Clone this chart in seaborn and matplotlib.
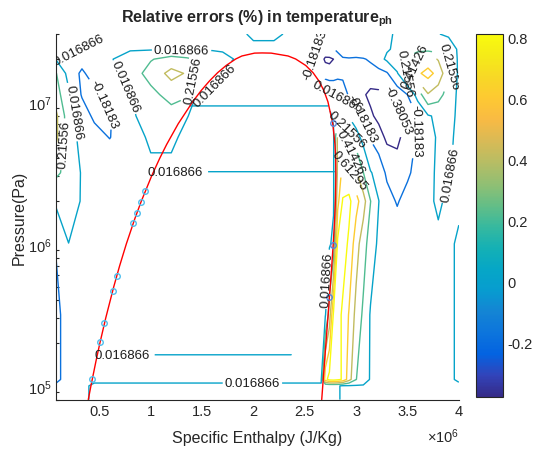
import numpy as np
import pandas as pd
import matplotlib
matplotlib.use("Agg")
import matplotlib.pyplot as plt
import seaborn as sns
from matplotlib.colors import LinearSegmentedColormap, Normalize
from matplotlib.cm import ScalarMappable

# ---------------- data ----------------
# contour levels of the relative temperature error (%)
levels = [-0.38053, -0.18183, 0.016866, 0.21556, 0.41426, 0.61295, 0.81165]
level_text = ["-0.38053", "-0.18183", "0.016866", "0.21556", "0.41426", "0.61295", "0.81165"]

# grid nodes: specific enthalpy (x1e6 J/kg) and log10 pressure (Pa)
enthalpy_nodes = [0.08, 0.2, 0.33, 0.45, 0.6,
                  0.8, 1.0, 1.2, 1.35, 1.45, 1.6, 1.7, 1.85, 2.0, 2.2, 2.4, 2.55,
                  2.66, 2.70, 2.74, 2.78, 2.82, 2.87, 2.93, 3.0, 3.07, 3.14, 3.22, 3.3,
                  3.4, 3.5, 3.6, 3.7, 3.8, 3.9, 4.0]
log_pressure_nodes = [4.903, 5.0, 5.045, 5.5, 6.0, 6.3, 6.5, 6.75, 6.9, 7.05, 7.2, 7.3, 7.37, 7.477]

# estimated error values along each pressure row
err_p4903 = [-0.05, 0, 0, 0.03, 0.03,
             0.03, 0.03, 0.03, 0.03, 0.03, 0.03, 0.03, 0.03, 0.03, 0.03, 0.03, 0.03,
             0.03, 0.03, 0.03, 0.03, 0.03, 0, 0, 0, 0, 0, 0, 0, 0, 0, 0, 0, 0, 0, 0]
err_p5000 = [-0.1, 0, 0, 0.03, 0.03,
             0.03, 0.03, 0.03, 0.03, 0.03, 0.03, 0.03, 0.03, 0.03, 0.03, 0.03, 0.03,
             0.03, 0.03, 0.03, 0.03, 0.03, 0, 0, 0, 0, 0, 0, 0, 0, 0, 0, 0, 0, 0, 0]
err_p5045 = [-0.28, 0, 0, 0, 0,
             0, 0, 0, 0, 0, 0, 0, 0, 0, 0, 0, 0,
             0, 0.75, 0.88, 0.9, 0.86, 0.79, 0.5, 0.22, 0.12, 0, 0, 0, 0, 0, 0, 0, 0, 0, 0.03]
err_p5500 = [-0.28, 0, 0, 0, 0,
             0, 0, 0, 0, 0, 0, 0, 0, 0, 0, 0, 0,
             0, 0, 0.3, 0.85, 0.88, 0.78, 0.6, 0.35, 0.18, 0, 0, 0, 0, 0, 0, 0, 0, 0, 0.03]
err_p6000 = [-0.15, 0.015, 0, 0, 0,
             0, 0, 0, 0, 0, 0, 0, 0, 0, 0, 0, 0,
             0, 0, 0, 0.05, 0.85, 0.9, 0.78, 0.5, 0.3, 0.12, -0.02, -0.03, -0.05, -0.02, 0, 0, 0, 0, 0.03]
err_p6300 = [0.05, 0.12, 0, 0, 0,
             0, 0, 0, 0, 0, 0, 0, 0, 0, 0, 0, 0,
             0, 0, 0, 0, 0.55, 0.83, 0.86, 0.68, 0.5, 0.22, 0.02, -0.1, -0.2, -0.1, -0.03, 0, 0.03, 0, 0]
err_p6500 = [0.25, 0.15, 0, 0, 0,
             0, 0, 0, 0, 0, 0, 0, 0, 0, 0, 0, 0,
             0, 0, 0, 0, 0.45, 0.68, 0.66, 0.45, 0.22, 0.03, -0.05, -0.22, -0.3, -0.22, -0.1, -0.02, 0.04, 0.03, -0.02]
err_p6750 = [0.45, 0.12, -0.05, -0.1, -0.19,
             -0.02, 0.03, 0.03, 0, 0, 0, 0, 0, 0, 0, 0, 0,
             0, 0, 0, 0, 0.45, 0.45, 0.3, 0.1, -0.05, -0.2, -0.3, -0.42, -0.42, -0.3, -0.15, -0.02, 0.03, 0.05, -0.02]
err_p6900 = [0.45, 0.1, -0.08, -0.22, -0.2,
             0, 0.06, 0.12, 0.02, 0, 0, 0, 0, 0, 0, 0, 0,
             0, 0, 0, 0.03, 0.15, 0.1, 0, -0.1, -0.22, -0.35, -0.43, -0.45, -0.42, -0.3, -0.17, 0, 0.05, 0.08, -0.02]
err_p7050 = [0.3, 0.05, -0.2, -0.24, -0.05,
             0.01, 0.15, 0.3, 0.25, 0, 0, 0, 0, 0, 0, 0, 0,
             0, 0, 0.05, 0.05, 0, -0.1, -0.2, -0.28, -0.36, -0.42, -0.42, -0.39, -0.3, -0.18, 0.1, 0.4, 0.3, 0.12, -0.02]
err_p7200 = [0.22, -0.05, -0.22, -0.08, -0.02,
             0.1, 0.3, 0.47, 0.4, 0.2, 0.1, 0, 0, 0, 0, 0, 0,
             -0.1, -0.25, -0.3, -0.3, -0.25, -0.22, -0.25, -0.3, -0.3, -0.28, -0.25, -0.2, 0, 0.3, 0.58, 0.68, 0.55, 0.25, -0.02]
err_p7300 = [0, 0, -0.1, 0, 0,
             0.1, 0.2, 0.3, 0.25, 0.2, 0.12, 0.06, 0, 0, 0, 0, -0.12,
             -0.3, -0.42, -0.42, -0.38, -0.25, -0.2, -0.2, -0.22, -0.2, -0.15, -0.05, 0.05, 0.15, 0.25, 0.4, 0.5, 0.4, 0.22, -0.02]
err_p7370 = [0.02, 0.02, 0.02, 0, 0,
             0, 0, 0, 0, 0, 0, 0, 0, 0, 0, 0, -0.15,
             -0.2, -0.22, -0.2, -0.19, -0.15, -0.1, -0.05, 0, 0, 0, 0, 0, 0.05, 0.1, 0.15, 0.15, 0.12, 0.08, 0]
err_p7477 = [0.05, 0.05, 0.04, 0, 0,
             0, 0, 0, 0, 0, 0, 0, 0, 0.03, 0.03, 0, -0.1,
             -0.12, -0.12, -0.1, -0.08, -0.05, 0, 0, 0, 0, 0, 0, 0, 0.03, 0.05, 0.06, 0.04, 0.02, 0, 0]

# flat iso-error lines inside the two-phase dome
dome_line_logp = [6.507, 6.97, 5.218]
dome_line_h_start = [1.02, 1.38, 0.46]
dome_line_h_end = [2.79, 2.73, 2.37]
dome_line_err = 0.018

# saturation dome of water (pressure Pa, enthalpy kJ/kg)
sat_p = [8.0e4, 1.0e5, 1.5e5, 2.0e5, 3.0e5, 5.0e5, 7.0e5, 1.0e6, 1.5e6, 2.0e6, 3.0e6,
         4.0e6, 5.0e6, 7.0e6, 1.0e7, 1.2e7, 1.4e7, 1.6e7, 1.8e7, 2.0e7, 2.1e7, 2.2e7, 2.2064e7]
sat_hf = [391.6, 417.4, 467.1, 504.7, 561.4, 640.1, 697.0, 762.5, 844.6, 908.5, 1008.3,
          1087.4, 1154.5, 1267.4, 1408.1, 1491.5, 1571.6, 1650.5, 1734.0, 1827.2, 1887.6, 2011.0, 2084.3]
sat_hg = [2665.0, 2674.9, 2693.1, 2706.2, 2724.9, 2748.1, 2762.8, 2777.1, 2791.0, 2798.3, 2803.2,
          2800.8, 2794.2, 2772.6, 2725.5, 2685.4, 2638.1, 2581.0, 2509.5, 2411.4, 2337.5, 2173.0, 2084.3]

# sample points marked on the saturation lines
liq_mark_p = [1.11e5, 2.03e5, 2.76e5, 4.66e5, 5.9e5, 1.4e6, 1.65e6, 1.96e6, 2.35e6]
liq_mark_h = [0.424, 0.506, 0.549, 0.629, 0.667, 0.830, 0.866, 0.905, 0.948]
vap_mark_p = [4.2e5, 9.8e5, 7.1e6]
vap_mark_h = [2.739, 2.776, 2.770]

x_ticks = [0.5, 1, 1.5, 2, 2.5, 3, 3.5, 4]
cbar_ticks = [-0.2, 0, 0.2, 0.4, 0.6, 0.8]

# ---------------- style ----------------
sns.set_theme(style="white")
plt.rcParams["font.family"] = ["Liberation Sans", "DejaVu Sans"]
plt.rcParams["mathtext.fontset"] = "custom"
plt.rcParams["mathtext.rm"] = "Liberation Sans"
plt.rcParams["mathtext.it"] = "Liberation Sans:italic"
plt.rcParams["mathtext.bf"] = "Liberation Sans:bold"

parula = LinearSegmentedColormap.from_list("parula", [
    (0.2081, 0.1663, 0.5292), (0.1959, 0.2645, 0.7279), (0.0117, 0.3875, 0.8820),
    (0.0498, 0.4586, 0.8641), (0.0793, 0.5200, 0.8312), (0.0265, 0.6137, 0.8135),
    (0.0228, 0.6535, 0.7768), (0.0843, 0.6928, 0.7062), (0.2178, 0.7250, 0.6193),
    (0.3953, 0.7459, 0.5244), (0.5709, 0.7485, 0.4494), (0.7184, 0.7411, 0.3905),
    (0.8507, 0.7299, 0.3360), (0.9739, 0.7314, 0.2666), (0.9955, 0.7861, 0.1967),
    (0.9698, 0.8481, 0.1475), (0.9598, 0.9218, 0.0948), (0.9763, 0.9831, 0.0538)])
norm = Normalize(vmin=levels[0], vmax=levels[-1])

fig = plt.figure(figsize=(5.33, 4.52), dpi=100)
ax = fig.add_axes([0.1056, 0.1137, 0.7552, 0.8089])
cax = fig.add_axes([0.893, 0.1188, 0.0507, 0.8044])

err_grid = np.array([err_p4903, err_p5000, err_p5045, err_p5500, err_p6000, err_p6300,
                     err_p6500, err_p6750, err_p6900, err_p7050, err_p7200, err_p7300,
                     err_p7370, err_p7477])
cs = ax.contour(enthalpy_nodes, log_pressure_nodes, err_grid, levels=levels,
                cmap=parula, norm=norm, linewidths=1.0)

line_sets = []
for lp, h0, h1 in zip(dome_line_logp, dome_line_h_start, dome_line_h_end):
    hx = [h0 - 0.03, h0, h1, h1 + 0.03]
    py = [lp, lp + 0.01]
    zz = np.array([[0, dome_line_err, dome_line_err, 0], [0, 0, 0, 0]])
    line_sets.append(ax.contour(hx, py, zz, levels=[levels[2]], cmap=parula,
                                norm=norm, linewidths=1.0))

fmt = dict(zip(cs.levels, level_text))
label_spots = [(0.29, 7.42), (0.50, 6.97), (0.26, 6.93), (0.16, 6.70), (0.78, 7.12),
               (1.3, 7.365), (1.44, 7.15), (1.62, 7.12), (2.62, 7.33), (2.80, 7.03),
               (3.05, 6.88), (3.42, 6.95), (3.58, 6.80), (3.47, 7.2), (3.58, 7.25),
               (3.93, 7.25), (3.85, 6.5), (2.9, 6.8), (2.95, 6.65), (2.95, 6.52),
               (2.72, 5.75), (1.99, 5.02)]
ax.clabel(cs, manual=label_spots, inline=True, fmt=fmt, fontsize=9.5,
          colors="k", inline_spacing=2)
ax.clabel(line_sets[0], manual=[(1.24, 6.507)], inline=True,
          fmt={line_sets[0].levels[0]: "0.016866"}, fontsize=9.5, colors="k")
ax.clabel(line_sets[2], manual=[(0.72, 5.218)], inline=True,
          fmt={line_sets[2].levels[0]: "0.016866"}, fontsize=9.5, colors="k")

# saturation dome
dome = pd.DataFrame({
    "h": [v / 1000 for v in sat_hf] + [v / 1000 for v in sat_hg[::-1][1:]],
    "logp": list(np.log10(sat_p)) + list(np.log10(sat_p[::-1][1:])),
})
sns.lineplot(data=dome, x="h", y="logp", sort=False, estimator=None, color="red",
             linewidth=1.0, ax=ax)
sns.lineplot(x=liq_mark_h, y=np.log10(liq_mark_p), sort=False, estimator=None, ax=ax,
             marker="o", linestyle="", markersize=4, markerfacecolor="none",
             markeredgecolor="#4DBEEE", markeredgewidth=1.0)
sns.lineplot(x=vap_mark_h, y=np.log10(vap_mark_p), sort=False, estimator=None, ax=ax,
             marker="o", linestyle="", markersize=4, markerfacecolor="none",
             markeredgecolor="#5A86DA", markeredgewidth=1.0)

# axes
ax.set_xlim(0.08, 4.0)
ax.set_ylim(np.log10(8e4), np.log10(3e7))
ax.set_xticks(x_ticks, labels=["%g" % t for t in x_ticks])
ax.set_yticks([5, 6, 7], labels=[r"$10^{5}$", r"$10^{6}$", r"$10^{7}$"])
minor = [k * 10.0 ** n for n in range(4, 8) for k in range(2, 10)]
minor = [m for m in minor if 8e4 <= m <= 3e7]
ax.set_yticks(np.log10(minor), minor=True)
ax.tick_params(which="both", direction="in", colors="#262626", labelsize=10.5,
               top=False, right=False, width=0.8)
ax.tick_params(which="major", length=4)
ax.tick_params(which="minor", length=2.5, left=True, bottom=False)
for side in ["top", "right"]:
    ax.spines[side].set_visible(False)
for side in ["left", "bottom"]:
    ax.spines[side].set_color("#262626")
    ax.spines[side].set_linewidth(0.8)
ax.set_xlabel("Specific Enthalpy (J/Kg)", fontsize=11.5, color="#262626", labelpad=8)
ax.set_ylabel("Pressure(Pa)", fontsize=11.5, color="#262626", labelpad=1)
ax.set_title(r"Relative errors (%) in temperature$_{\mathbf{ph}}$", fontsize=11.5,
             fontweight="bold", pad=9)
ax.text(1.0, -0.10, r"$\times10^{6}$", transform=ax.transAxes, ha="right", va="center",
        fontsize=10.5, color="#262626")

# colorbar
cb = fig.colorbar(ScalarMappable(norm=norm, cmap=parula), cax=cax)
cb.set_ticks(cbar_ticks, labels=["%g" % t for t in cbar_ticks])
cb.ax.tick_params(direction="in", length=4, labelsize=10.5, colors="#262626", width=0.8)
cb.outline.set_edgecolor("#262626")
cb.outline.set_linewidth(0.8)

fig.savefig("out.png", dpi=100)
